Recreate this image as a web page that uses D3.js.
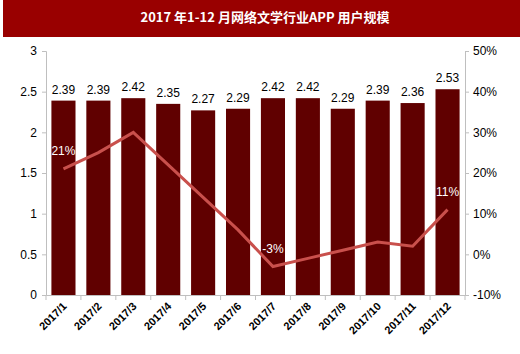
<!DOCTYPE html>
<html>
<head>
<meta charset="utf-8">
<script src="https://cdn.jsdelivr.net/npm/d3@7"></script>
<style>
  body { margin: 0; background: #fff; }
  svg { display: block; font-family: "Liberation Sans", Arial, sans-serif; }
</style>
</head>
<body>
<div id="chart"></div>
<script>
const width = 520, height = 354,
  margin = ({ top: 51, right: 55, bottom: 59, left: 46 });

// data
const months = ["2017/1", "2017/2", "2017/3", "2017/4", "2017/5", "2017/6",
  "2017/7", "2017/8", "2017/9", "2017/10", "2017/11", "2017/12"];
const users = [2.39, 2.39, 2.42, 2.35, 2.27, 2.29, 2.42, 2.42, 2.29, 2.39, 2.36, 2.53];
const growth = [21, 25, 30, 22, 14, 6, -3, -1, 1, 3, 2, 11]; // %
const leftTicks = [0, 0.5, 1, 1.5, 2, 2.5, 3];
const rightTicks = [-10, 0, 10, 20, 30, 40, 50];
const labelled = ["2017/1", "2017/7", "2017/12"]; // points with a % label

const svg = d3.select("#chart").append("svg")
  .attr("width", width).attr("height", height);

// title bar
svg.append("rect")
  .attr("x", 3).attr("y", 0).attr("width", width - 3).attr("height", 37)
  .attr("fill", "#990000");
svg.append("text")
  .attr("x", 265).attr("y", 22)
  .attr("text-anchor", "middle")
  .attr("fill", "#fff")
  .attr("font-weight", "bold")
  .attr("font-size", 13)
  .style("font-family", "'Noto Sans CJK SC', sans-serif")
  .text("2017 年1-12 月网络文学行业APP 用户规模");

let x = d3.scaleBand()
  .domain(months)
  .range([margin.left, width - margin.right])
  .paddingInner(0.31).paddingOuter(0.155);

let y = d3.scaleLinear().domain([0, 3])
  .range([height - margin.bottom, margin.top]);

let y2 = d3.scaleLinear().domain([-10, 50])
  .range([height - margin.bottom, margin.top]);

// bars
svg.append("g").selectAll("rect")
  .data(months)
  .join("rect")
  .attr("x", (d) => x(d))
  .attr("width", x.bandwidth())
  .attr("y", (d, i) => y(users[i]))
  .attr("height", (d, i) => y(0) - y(users[i]))
  .attr("fill", "#600000");

svg.append("g").selectAll("text")
  .data(months)
  .join("text")
  .attr("x", (d) => x(d) + x.bandwidth() / 2)
  .attr("y", (d, i) => y(users[i]) - 7)
  .attr("text-anchor", "middle")
  .attr("font-size", 12)
  .attr("fill", "#000")
  .text((d, i) => users[i].toFixed(2));

// growth line
const line = d3.line()
  .x((d, i) => x(months[i]) + x.bandwidth() / 2)
  .y((d) => y2(d));

svg.append("path")
  .datum(growth)
  .attr("d", line)
  .attr("fill", "none")
  .attr("stroke", "#c9504c")
  .attr("stroke-width", 3);

svg.append("g").selectAll("text")
  .data(months.filter((m) => labelled.includes(m)))
  .join("text")
  .attr("x", (d) => x(d) + x.bandwidth() / 2)
  .attr("y", (d) => y2(growth[months.indexOf(d)]) - 14)
  .attr("text-anchor", "middle")
  .attr("font-size", 12)
  .attr("fill", "#fff")
  .text((d) => growth[months.indexOf(d)] + "%");

// axes
const axisColor = "#bfbfbf";

const xAxis = svg.append("g")
  .attr("transform", `translate(0,${y(0)})`)
  .call(d3.axisBottom(x).tickSize(0).tickFormat(""));
xAxis.select(".domain").attr("stroke", axisColor);
xAxis.selectAll(".xt")
  .data([...months.map((m) => x(m) - x.step() * x.paddingInner() / 2), width - margin.right])
  .join("line")
  .attr("x1", (d) => d).attr("x2", (d) => d)
  .attr("y1", 0).attr("y2", 5)
  .attr("stroke", axisColor);
xAxis.selectAll(".xl")
  .data(months)
  .join("text")
  .attr("transform", (d) => `translate(${x(d) + x.bandwidth() / 2 + 4},${12}) rotate(-45)`)
  .attr("text-anchor", "end")
  .attr("font-size", 11)
  .attr("font-weight", "bold")
  .attr("fill", "#000")
  .text((d) => d);

const yAxis = svg.append("g")
  .attr("transform", `translate(${margin.left},0)`)
  .call(d3.axisLeft(y).tickValues(leftTicks).tickSize(4).tickPadding(5)
    .tickFormat((d) => d));
yAxis.select(".domain").attr("stroke", axisColor);
yAxis.selectAll(".tick line").attr("stroke", axisColor);
yAxis.selectAll(".tick text").attr("font-size", 12).attr("fill", "#000");

const yAxis2 = svg.append("g")
  .attr("transform", `translate(${width - margin.right},0)`)
  .call(d3.axisRight(y2).tickValues(rightTicks).tickSize(4).tickPadding(4)
    .tickFormat((d) => d + "%"));
yAxis2.select(".domain").attr("stroke", axisColor);
yAxis2.selectAll(".tick line").attr("stroke", axisColor);
yAxis2.selectAll(".tick text").attr("font-size", 12).attr("fill", "#000");
</script>
</body>
</html>
